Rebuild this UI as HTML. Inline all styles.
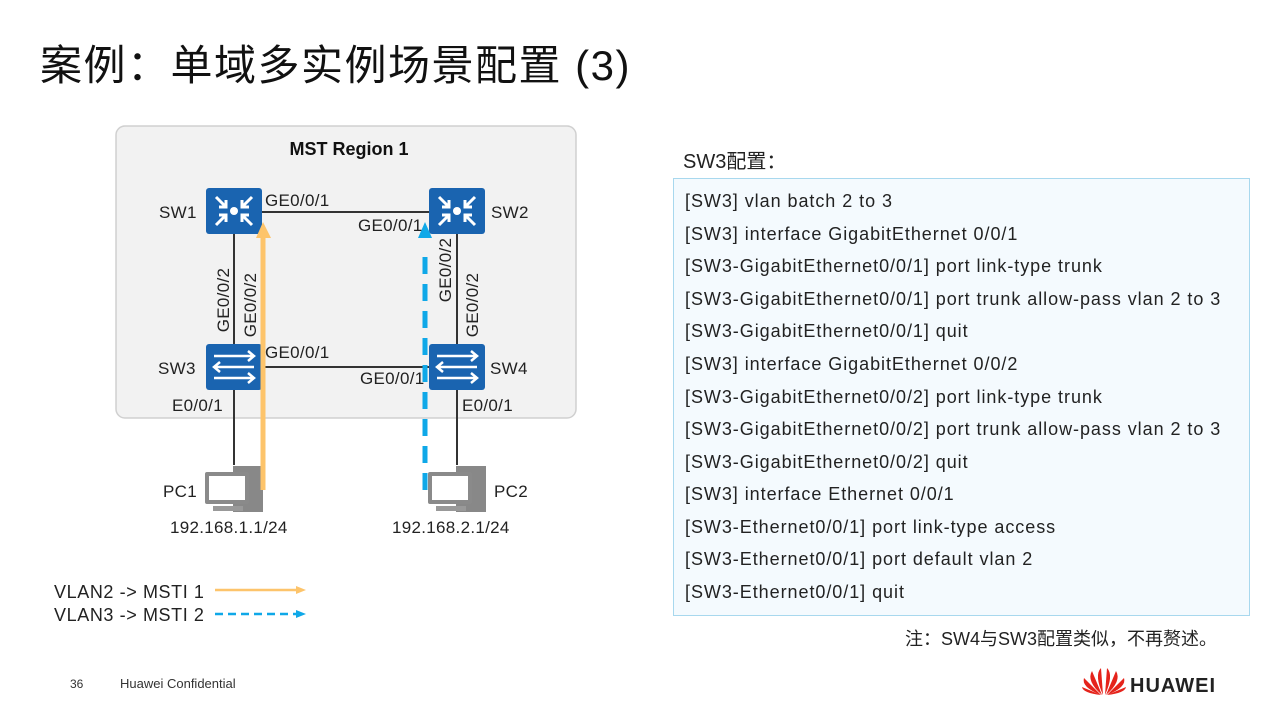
<!DOCTYPE html>
<html><head><meta charset="utf-8"><style>
body{margin:0;width:1285px;height:717px;background:#fff;overflow:hidden;position:relative;font-family:"Liberation Sans","Noto Sans CJK SC",sans-serif;color:#222}
.t{position:absolute;white-space:nowrap}
#code{position:absolute;left:673px;top:178px;width:575px;height:436px;border:1px solid #a8d8ee;background:#f4fafe}
#code div{position:absolute;left:11px;font-size:18px;letter-spacing:0.95px;white-space:nowrap;color:#222}
</style></head><body>
<div class="t" style="left:40px;top:32px;font-size:42px;color:#111;letter-spacing:1.5px">案例：单域多实例场景配置 (3)</div>
<svg width="1285" height="717" style="position:absolute;left:0;top:0" font-family="Liberation Sans, sans-serif">
<defs>
<g id="rt"><rect width="56" height="46" rx="3" fill="#1a64b0"/>
<g stroke="#fff" stroke-width="3" fill="none"><path d="M10 9 L20 19 M20 12 V19 H13"/><path d="M46 9 L36 19 M36 12 V19 H43"/><path d="M10 37 L20 27 M20 34 V27 H13"/><path d="M46 37 L36 27 M36 34 V27 H43"/></g><circle cx="28" cy="23" r="4" fill="#fff"/></g>
<g id="sw"><rect width="56" height="46" rx="3" fill="#1a64b0"/>
<g stroke="#fff" stroke-width="2.5" fill="none"><path d="M8 12 H48 M42 7 L48 12 L42 17"/><path d="M48 23 H8 M14 18 L8 23 L14 28"/><path d="M8 34 H48 M42 29 L48 34 L42 39"/></g></g>
<g id="pc"><rect x="28" y="0" width="30" height="46" fill="#888"/><rect x="0" y="6" width="44" height="32" rx="2" fill="#8a8a8a"/><rect x="4" y="10" width="36" height="24" fill="#fff"/><rect x="8" y="40" width="30" height="5" fill="#999"/></g>
</defs>
<rect x="116" y="126" width="460" height="292" rx="9" fill="#f2f2f2" stroke="#d0d0d0" stroke-width="1.5"/>
<text x="349" y="155" font-size="18" font-weight="bold" text-anchor="middle" fill="#111">MST Region 1</text>
<g stroke="#333" stroke-width="2">
<line x1="262" y1="212" x2="429" y2="212"/><line x1="260" y1="367" x2="429" y2="367"/>
<line x1="234" y1="234" x2="234" y2="344"/><line x1="457" y1="234" x2="457" y2="344"/>
<line x1="234" y1="390" x2="234" y2="465"/><line x1="457" y1="390" x2="457" y2="465"/>
</g>
<use href="#rt" x="206" y="188"/><use href="#rt" x="429" y="188"/>
<use href="#sw" x="206" y="344"/><use href="#sw" x="429" y="344"/>
<use href="#pc" x="205" y="466"/><use href="#pc" x="428" y="466"/>
<line x1="263" y1="490" x2="263" y2="236" stroke="#fdc46b" stroke-width="5"/>
<polygon points="256,238 263,222 271,238" fill="#fdc46b"/>
<line x1="425" y1="490" x2="425" y2="248" stroke="#0fa8e8" stroke-width="5" stroke-dasharray="17,10"/>
<polygon points="418,238 425,222 432,238" fill="#0fa8e8"/>
<g font-size="17" fill="#222" letter-spacing="0.3">
<text x="159" y="218">SW1</text><text x="491" y="218">SW2</text>
<text x="158" y="374">SW3</text><text x="490" y="374">SW4</text>
<text x="265" y="206">GE0/0/1</text><text x="358" y="231">GE0/0/1</text>
<text x="265" y="358">GE0/0/1</text><text x="360" y="384">GE0/0/1</text>
<text x="172" y="411">E0/0/1</text><text x="462" y="411">E0/0/1</text>
<text x="163" y="497">PC1</text><text x="494" y="497">PC2</text>
<text x="170" y="533">192.168.1.1/24</text><text x="392" y="533">192.168.2.1/24</text>
<text transform="translate(229,300) rotate(-90)" text-anchor="middle">GE0/0/2</text>
<text transform="translate(256,305) rotate(-90)" text-anchor="middle">GE0/0/2</text>
<text transform="translate(451,270) rotate(-90)" text-anchor="middle">GE0/0/2</text>
<text transform="translate(478,305) rotate(-90)" text-anchor="middle">GE0/0/2</text>
</g>
<g font-size="18" fill="#222" letter-spacing="0.6">
<text x="54" y="598">VLAN2 -&gt; MSTI 1</text><text x="54" y="621">VLAN3 -&gt; MSTI 2</text>
</g>
<line x1="215" y1="590" x2="298" y2="590" stroke="#fdc46b" stroke-width="2.5"/><polygon points="296,586 306,590 296,594" fill="#fdc46b"/>
<line x1="215" y1="614" x2="298" y2="614" stroke="#0fa8e8" stroke-width="2.5" stroke-dasharray="8,5"/><polygon points="296,610 306,614 296,618" fill="#0fa8e8"/>
<text x="70" y="688" font-size="12" fill="#333">36</text><text x="120" y="688" font-size="13" fill="#333">Huawei Confidential</text>
<g transform="translate(1104,695)" fill="#e5231b">
<path d="M-3 0 L-22 -8 Q-21 -2 -3 0Z"/><path d="M-3 0 L-20 -17 Q-23 -8 -3 0Z"/><path d="M-2 0 L-12 -24 Q-18 -14 -2 0Z"/><path d="M-1 0 L-3 -27 Q-10 -20 -1 0Z"/>
<path d="M3 0 L22 -8 Q21 -2 3 0Z"/><path d="M3 0 L20 -17 Q23 -8 3 0Z"/><path d="M2 0 L12 -24 Q18 -14 2 0Z"/><path d="M1 0 L3 -27 Q10 -20 1 0Z"/>
</g>
<text x="1130" y="692" font-size="20" font-weight="bold" fill="#222" letter-spacing="1">HUAWEI</text>
</svg>
<div class="t" style="left:683px;top:145px;font-size:20px">SW3配置：</div>
<div id="code">
<div style="top:12px">[SW3] vlan batch 2 to 3</div>
<div style="top:45px">[SW3] interface GigabitEthernet 0/0/1</div>
<div style="top:77px">[SW3-GigabitEthernet0/0/1] port link-type trunk</div>
<div style="top:110px">[SW3-GigabitEthernet0/0/1] port trunk allow-pass vlan 2 to 3</div>
<div style="top:142px">[SW3-GigabitEthernet0/0/1] quit</div>
<div style="top:175px">[SW3] interface GigabitEthernet 0/0/2</div>
<div style="top:208px">[SW3-GigabitEthernet0/0/2] port link-type trunk</div>
<div style="top:240px">[SW3-GigabitEthernet0/0/2] port trunk allow-pass vlan 2 to 3</div>
<div style="top:273px">[SW3-GigabitEthernet0/0/2] quit</div>
<div style="top:305px">[SW3] interface Ethernet 0/0/1</div>
<div style="top:338px">[SW3-Ethernet0/0/1] port link-type access</div>
<div style="top:370px">[SW3-Ethernet0/0/1] port default vlan 2</div>
<div style="top:403px">[SW3-Ethernet0/0/1] quit</div>
</div>
<div class="t" style="left:905px;top:625px;font-size:18px">注：SW4与SW3配置类似，不再赘述。</div>
</body></html>
